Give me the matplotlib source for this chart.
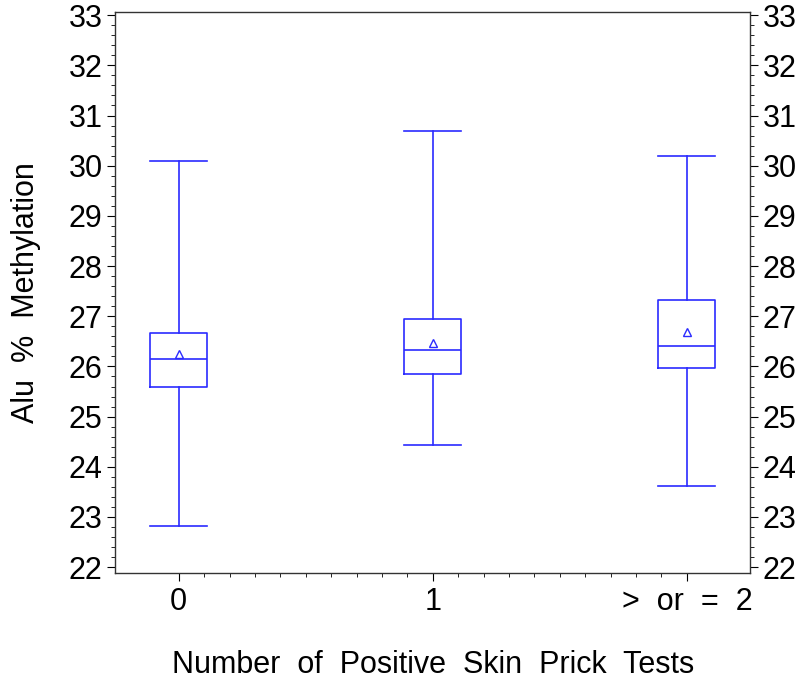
import matplotlib
matplotlib.use("Agg")
import matplotlib.pyplot as plt
from matplotlib.ticker import MultipleLocator

plt.rcParams['font.family'] = ['Liberation Sans', 'DejaVu Sans']

# box statistics
groups = ["0", "1", ">  or  =  2"]
whislo = [22.83, 24.43, 23.62]
q1 = [25.60, 25.85, 25.97]
med = [26.15, 26.33, 26.41]
q3 = [26.67, 26.94, 27.32]
whishi = [30.10, 30.69, 30.19]
means = [26.25, 26.47, 26.69]

blue = "#2b2bff"

stats = []
for i in range(len(groups)):
    stats.append(dict(label=groups[i], whislo=whislo[i], q1=q1[i], med=med[i],
                      q3=q3[i], whishi=whishi[i], mean=means[i], fliers=[]))

fig = plt.figure(figsize=(8, 6.84), dpi=100)
ax = fig.add_axes([0.144, 0.162, 0.794, 0.821])

ax.bxp(stats, positions=[0, 1, 2], widths=0.225, showmeans=True,
       boxprops=dict(color=blue, lw=1.2),
       whiskerprops=dict(color=blue, lw=1.2),
       capprops=dict(color=blue, lw=1.2),
       medianprops=dict(color=blue, lw=1.2),
       meanprops=dict(marker="^", markerfacecolor="none", markeredgecolor=blue,
                      markersize=6, markeredgewidth=1.0),
       capwidths=0.225)

ax.set_xlim(-0.25, 2.25)
ax.set_ylim(21.88, 33.07)

ax.yaxis.set_major_locator(MultipleLocator(1))
ax.yaxis.set_minor_locator(MultipleLocator(0.2))
ax.set_xticks([0, 1, 2])
ax.set_xticklabels(groups)
ax.set_xticks([x / 10 for x in range(1, 20) if x != 10], minor=True)

ax.tick_params(axis="y", which="both", direction="out", left=True, right=True,
               labelleft=True, labelright=True, labelsize=22)
ax.tick_params(axis="y", which="major", length=6, pad=3)
ax.tick_params(axis="y", which="minor", length=3)
ax.tick_params(axis="x", which="major", length=6, pad=4, labelsize=22)
ax.tick_params(axis="x", which="minor", length=3)

for s in ax.spines.values():
    s.set_color("#333333")
    s.set_linewidth(1.0)

ax.set_ylabel("Alu  %  Methylation", fontsize=22, labelpad=20)
ax.set_xlabel("Number  of  Positive  Skin  Prick  Tests", fontsize=22, labelpad=24)

fig.savefig("out.png", dpi=100)
